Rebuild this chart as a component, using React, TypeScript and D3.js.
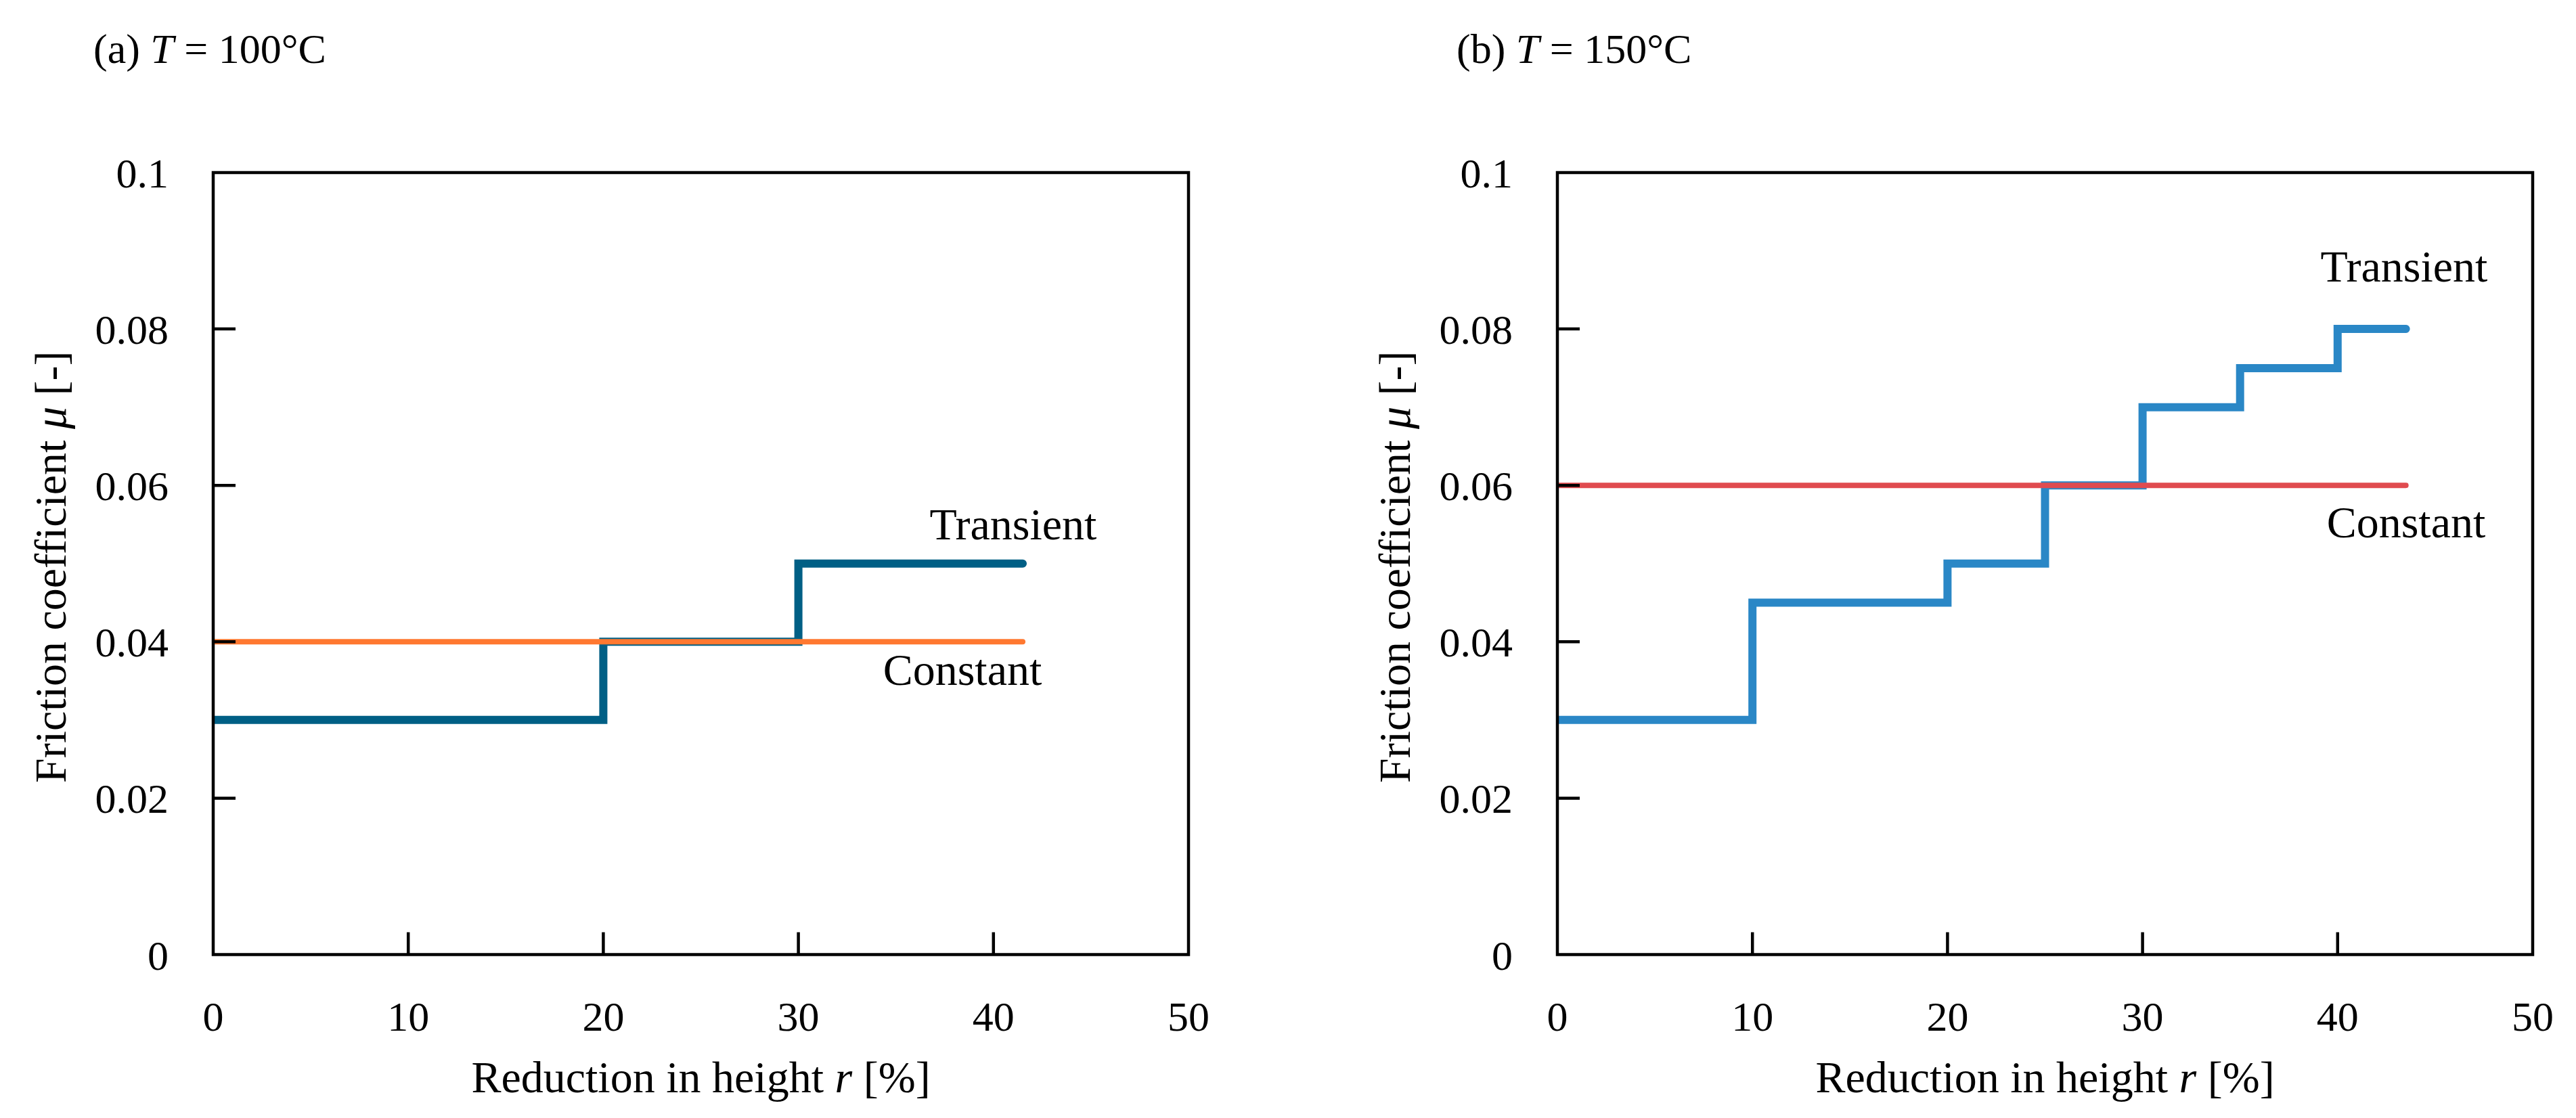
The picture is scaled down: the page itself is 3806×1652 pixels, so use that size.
import React from 'react';
import * as d3 from 'd3';

// reduction in height r [%] where the friction coefficient changes, and the value from there on
const transientA_r = [0, 20, 30, 41.5];
const transientA_mu = [0.03, 0.04, 0.05, 0.05];
const constantA_r = [0, 41.5];
const constantA_mu = [0.04, 0.04];

const transientB_r = [0, 10, 20, 25, 30, 35, 40, 43.5];
const transientB_mu = [0.03, 0.045, 0.05, 0.06, 0.07, 0.075, 0.08, 0.08];
const constantB_r = [0, 43.5];
const constantB_mu = [0.06, 0.06];

const xTicks = [0, 10, 20, 30, 40, 50];
const yTicks = [0, 0.02, 0.04, 0.06, 0.08, 0.1];

const FONT = '"Liberation Serif", "DejaVu Serif", serif';

interface PanelProps {
  id: string;
  letter: string;
  temp: string;
  left: number;
  titleX: number;
  transientR: number[];
  transientMu: number[];
  constantR: number[];
  constantMu: number[];
  transientColor: string;
  constantColor: string;
  transientLabel: [number, number];
  constantLabel: [number, number];
}

const TOP = 255;
const BOTTOM = 1410.5;
const WIDTH = 1441;

const Panel: React.FC<PanelProps> = (p) => {
  const x = d3.scaleLinear().domain([0, 50]).range([p.left, p.left + WIDTH]);
  const y = d3.scaleLinear().domain([0, 0.1]).range([BOTTOM, TOP]);

  const line = d3
    .line<[number, number]>()
    .x((d) => x(d[0]))
    .y((d) => y(d[1]))
    .curve(d3.curveStepAfter);

  const tr = p.transientR.map((r, i) => [r, p.transientMu[i]] as [number, number]);
  const cr = p.constantR.map((r, i) => [r, p.constantMu[i]] as [number, number]);
  const midX = (x(0) + x(50)) / 2;
  const midY = (TOP + BOTTOM) / 2;

  return (
    <g>
      <defs>
        <clipPath id={`clip-${p.id}`}>
          <rect x={x(0)} y={TOP} width={WIDTH + 20} height={BOTTOM - TOP} />
        </clipPath>
      </defs>

      <text x={p.titleX} y={93} fontSize={62} fontFamily={FONT}>
        ({p.letter}) <tspan fontStyle="italic">T</tspan> = {p.temp}°C
      </text>

      <g clipPath={`url(#clip-${p.id})`}>
        <path d={line(tr) || ''} fill="none" stroke={p.transientColor} strokeWidth={12} strokeLinecap="round" />
        <path d={line(cr) || ''} fill="none" stroke={p.constantColor} strokeWidth={8} strokeLinecap="round" />
      </g>

      {/* inward ticks */}
      {xTicks.slice(1, -1).map((t) => (
        <line key={`xt${t}`} x1={x(t)} x2={x(t)} y1={BOTTOM} y2={BOTTOM - 33} stroke="#000" strokeWidth={4.5} />
      ))}
      {yTicks.slice(1, -1).map((t) => (
        <line key={`yt${t}`} x1={x(0)} x2={x(0) + 33} y1={y(t)} y2={y(t)} stroke="#000" strokeWidth={4.5} />
      ))}

      <rect x={x(0)} y={TOP} width={WIDTH} height={BOTTOM - TOP} fill="none" stroke="#000" strokeWidth={4.5} />

      {xTicks.map((t) => (
        <text key={`xl${t}`} x={x(t)} y={1523} textAnchor="middle" fontSize={62} fontFamily={FONT}>
          {t}
        </text>
      ))}
      {yTicks.map((t) => (
        <text key={`yl${t}`} x={x(0) - 66} y={y(t) + 22} textAnchor="end" fontSize={62} fontFamily={FONT}>
          {t === 0 ? '0' : String(t)}
        </text>
      ))}

      <text x={midX} y={1614} textAnchor="middle" fontSize={66} fontFamily={FONT}>
        Reduction in height <tspan fontStyle="italic">r</tspan> [%]
      </text>
      <text
        transform={`translate(${x(0) - 218},${midY + 5}) rotate(-90)`}
        textAnchor="middle"
        fontSize={66}
        fontFamily={FONT}
      >
        Friction coefficient <tspan fontStyle="italic">μ</tspan> [-]
      </text>

      <text x={p.transientLabel[0]} y={p.transientLabel[1]} textAnchor="middle" fontSize={66} fontFamily={FONT}>
        Transient
      </text>
      <text x={p.constantLabel[0]} y={p.constantLabel[1]} textAnchor="middle" fontSize={66} fontFamily={FONT}>
        Constant
      </text>
    </g>
  );
};

export default function App() {
  return (
    <svg
      width={3806}
      height={1652}
      style={{ position: 'absolute', left: 0, top: 0, background: '#fff' }}
    >
      <rect width={3806} height={1652} fill="#fff" />
      <Panel
        id="a"
        letter="a"
        temp="100"
        left={315}
        titleX={138}
        transientR={transientA_r}
        transientMu={transientA_mu}
        constantR={constantA_r}
        constantMu={constantA_mu}
        transientColor="#005F85"
        constantColor="#FF7830"
        transientLabel={[1497, 797]}
        constantLabel={[1422, 1012]}
      />
      <Panel
        id="b"
        letter="b"
        temp="150"
        left={2301}
        titleX={2152}
        transientR={transientB_r}
        transientMu={transientB_mu}
        constantR={constantB_r}
        constantMu={constantB_mu}
        transientColor="#2A87C6"
        constantColor="#E04B4F"
        transientLabel={[3552, 416]}
        constantLabel={[3555, 794]}
      />
    </svg>
  );
}
